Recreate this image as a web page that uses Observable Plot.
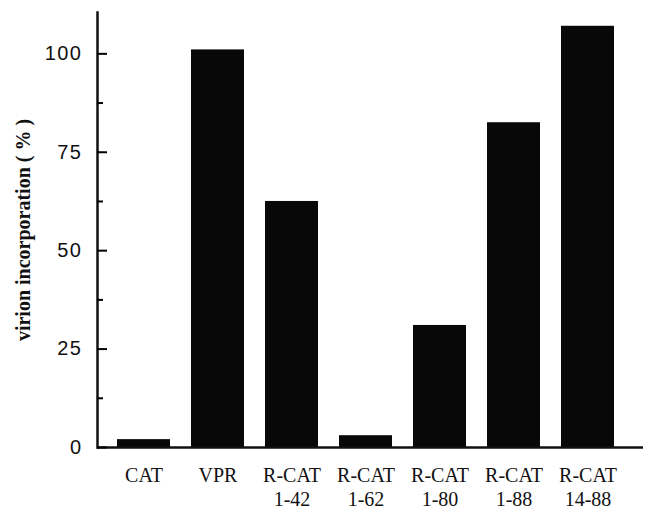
<!DOCTYPE html>
<html>
<head>
<meta charset="utf-8">
<script src="https://cdn.jsdelivr.net/npm/d3@7"></script>
<script src="https://cdn.jsdelivr.net/npm/@observablehq/plot@0.6"></script>
<style>
  html, body { margin: 0; padding: 0; background: #fff; }
  #chart { width: 647px; height: 510px; }
  g[aria-label="y-axis tick label"] text { font-family: "Liberation Sans", Arial, sans-serif; font-size: 20px; letter-spacing: 1.5px; }
  g[aria-label="x-axis tick label"] text { font-family: "Liberation Serif", "Times New Roman", serif; font-size: 20px; }
</style>
</head>
<body>
<div id="chart"></div>
<script>
// Constructs tested and their measured virion incorporation (% of VPR)
const constructs = ["CAT", "VPR", "R-CAT\n1-42", "R-CAT\n1-62", "R-CAT\n1-80", "R-CAT\n1-88", "R-CAT\n14-88"];
const incorporation = [2, 101, 62.5, 3, 31, 82.5, 107];
const majorTicks = [0, 25, 50, 75, 100];
const minorTicks = [12.5, 37.5, 62.5, 87.5];
const yLabel = "virion incorporation ( % )";

const rows = constructs.map((construct, i) => ({construct, value: incorporation[i]}));

const chart = Plot.plot({
  width: 647,
  height: 510,
  marginLeft: 97,
  marginRight: 4,
  marginTop: 12,
  marginBottom: 63,
  x: {domain: constructs, paddingInner: 0.29, paddingOuter: 0.297, align: 0.4},
  y: {domain: [0, 110.5]},
  marks: [
    Plot.barY(rows, {x: "construct", y: "value", fill: "#080808"}),
    // axis lines
    Plot.frame({anchor: "left", stroke: "#111", strokeWidth: 2.5}),
    Plot.ruleY([0], {stroke: "#111", strokeWidth: 2.5}),
    // major ticks point inward, labelled
    Plot.axisY({ticks: majorTicks, tickSize: -10, tickPadding: 25, strokeWidth: 2, label: null, fill: "#111"}),
    // minor ticks, unlabelled
    Plot.axisY({ticks: minorTicks, tickSize: -6, tickFormat: () => "", strokeWidth: 2, label: null}),
    Plot.axisX({tickSize: 0, tickPadding: 17, lineHeight: 1.2, label: null, fill: "#111"}),
    Plot.text([yLabel], {
      text: d => d,
      frameAnchor: "left",
      textAnchor: "middle",
      lineAnchor: "middle",
      dx: -74,
      rotate: -90,
      fontSize: 20,
      fontWeight: "bold",
      fontFamily: "Liberation Serif, Times New Roman, serif",
      fill: "#111"
    })
  ]
});
document.getElementById("chart").appendChild(chart);
</script>
</body>
</html>
